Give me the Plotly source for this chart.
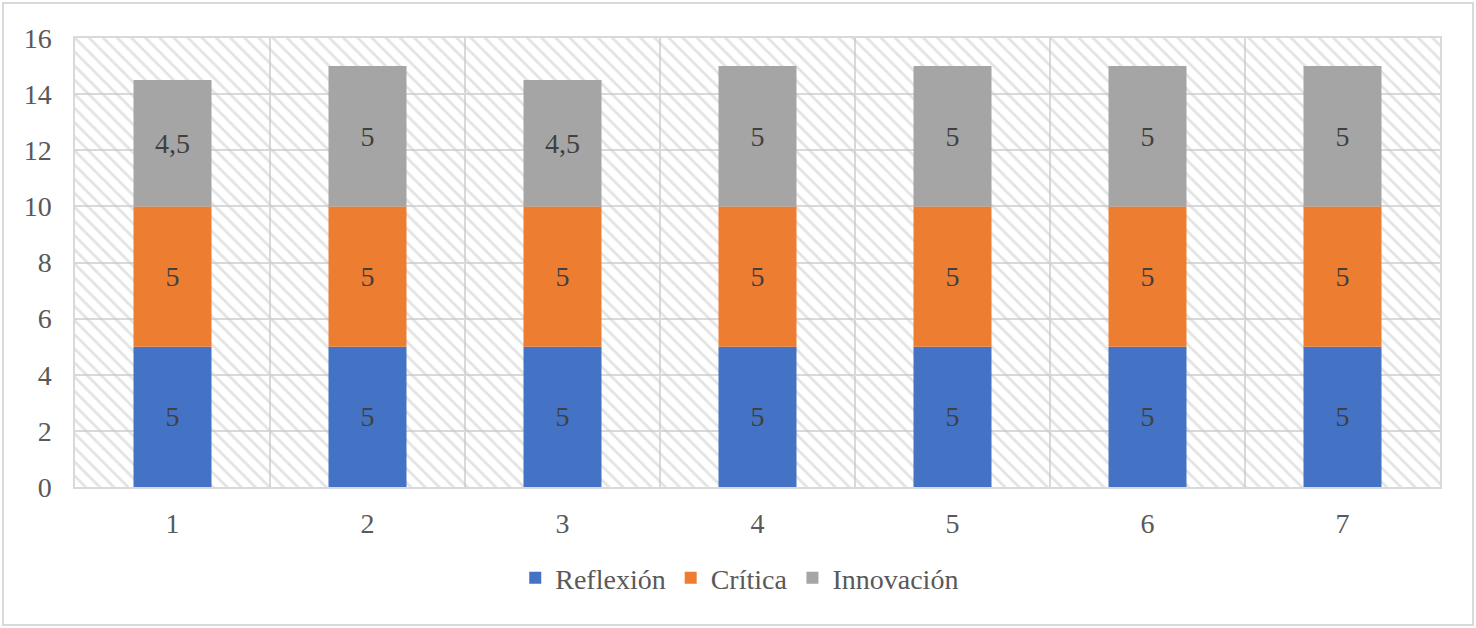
import plotly.graph_objects as go

# Stacked scores per item (1..7)
categories = [1, 2, 3, 4, 5, 6, 7]
reflexion = [5, 5, 5, 5, 5, 5, 5]
critica = [5, 5, 5, 5, 5, 5, 5]
innovacion = [4.5, 5, 4.5, 5, 5, 5, 5]
y_ticks = [0, 2, 4, 6, 8, 10, 12, 14, 16]

FONT = "Times New Roman, Liberation Serif, serif"
GRID = "#d9d9d9"


def fmt(v):
    # Spanish decimal comma, drop trailing .0
    return f"{v:g}".replace(".", ",")


# bases for manual stacking
base_critica = list(reflexion)
base_innov = [a + b for a, b in zip(reflexion, critica)]

series = [
    ("Reflexión", reflexion, [0] * len(reflexion), "#4472c4"),
    ("Crítica", critica, base_critica, "#ed7d31"),
    ("Innovación", innovacion, base_innov, "#a5a5a5"),
]

fig = go.Figure()

# Hatched plot-area background: one transparent patterned bar over the full range
fig.add_trace(
    go.Bar(
        x=[(categories[0] + categories[-1]) / 2],
        y=[y_ticks[-1]],
        width=[len(categories)],
        marker=dict(
            color="rgba(0,0,0,0)",
            line=dict(width=0),
            pattern=dict(shape="\\", fgcolor="#c8c8c8", bgcolor="rgba(0,0,0,0)",
                         size=10, solidity=0.28),
        ),
        showlegend=False,
        hoverinfo="skip",
    )
)

for name, vals, base, color in series:
    fig.add_trace(
        go.Bar(
            x=categories,
            y=vals,
            base=base,
            name=name,
            width=0.4,
            marker=dict(color=color, line=dict(width=0)),
            text=[fmt(v) for v in vals],
            textposition="inside",
            insidetextanchor="middle",
            textangle=0,
            textfont=dict(family=FONT, size=28, color="#404040"),
        )
    )

fig.update_layout(
    barmode="overlay",
    width=1476,
    height=628,
    margin=dict(l=75, r=36, t=38, b=141),
    paper_bgcolor="white",
    plot_bgcolor="white",
    font=dict(family=FONT, size=28, color="#595959"),
    xaxis=dict(
        range=[0.5, 7.5],
        tickvals=categories,
        ticktext=[str(c) for c in categories],
        showgrid=False,
        zeroline=False,
        showline=True,
        linecolor=GRID,
        linewidth=1.5,
        mirror=True,
        ticks="",
        ticklabelstandoff=11,
        minor=dict(
            tickvals=[c + 0.5 for c in [0] + categories],
            showgrid=True,
            gridcolor=GRID,
            gridwidth=1.5,
            ticks="",
        ),
        fixedrange=True,
    ),
    yaxis=dict(
        range=[0, 16],
        tickvals=y_ticks,
        showgrid=True,
        gridcolor=GRID,
        gridwidth=1.5,
        zeroline=False,
        showline=True,
        linecolor=GRID,
        linewidth=1.5,
        mirror=True,
        ticks="",
        ticklabelstandoff=16,
        fixedrange=True,
    ),
    legend=dict(
        orientation="h",
        x=0.487,
        xanchor="center",
        y=-0.203,
        yanchor="middle",
        font=dict(family=FONT, size=28, color="#595959"),
        itemwidth=30,
        traceorder="normal",
    ),
    shapes=[
        dict(
            type="rect",
            xref="paper",
            yref="paper",
            x0=-72 / 1365,
            x1=1 + 33 / 1365,
            y0=-138 / 449,
            y1=1 + 35 / 449,
            line=dict(color=GRID, width=2),
            layer="below",
        )
    ],
)

# drop the browser's default body margin so the figure sits at the page origin
fig.write_html(
    "out.html",
    config={"displayModeBar": False},
    post_script="document.body.style.margin='0';",
)
